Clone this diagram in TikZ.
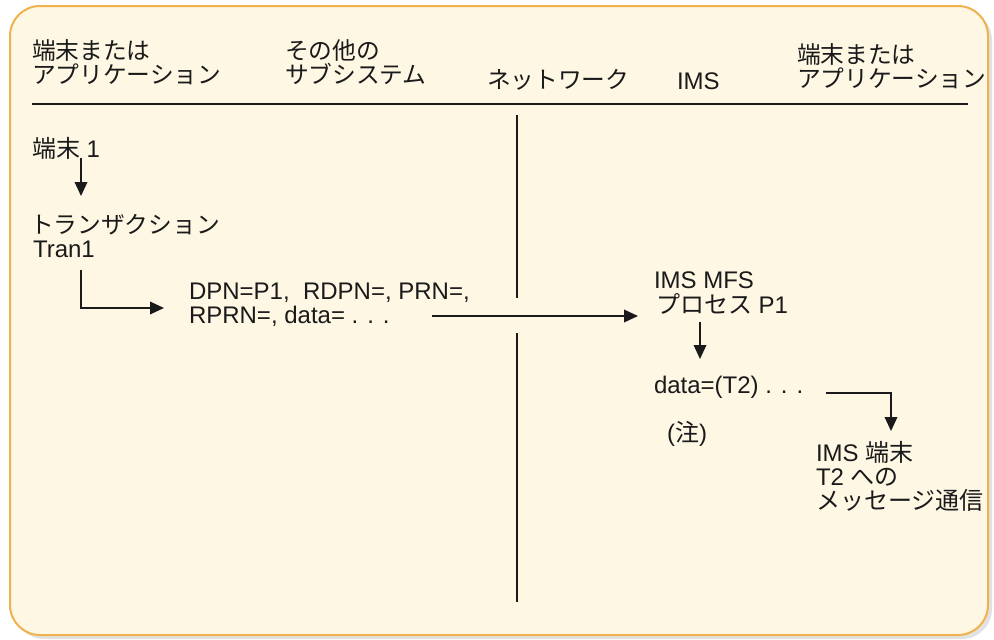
\documentclass[tikz,border=0pt]{standalone}
\usepackage{fontspec}
\setmainfont{Liberation Sans}
\newfontfamily\jpfont{Noto Sans CJK JP}
\newcommand{\J}[1]{{\jpfont #1}}
\usetikzlibrary{arrows.meta}
\definecolor{textc}{HTML}{1A1A1A}
\definecolor{panelfill}{HTML}{FDF7E4}
\definecolor{panelline}{HTML}{F0B24E}
\definecolor{shadowc}{HTML}{E2E2E2}
\tikzset{
  txt/.style={anchor=base west, inner sep=0pt, outer sep=0pt, text=textc,
    font=\fontsize{18}{20}\selectfont},
  jtxt/.style={txt, font=\fontsize{17.8}{20}\selectfont},
  rule/.style={draw=textc, line width=1.1pt},
  arr/.style={draw=textc, line width=1pt, -{Triangle[length=10.5pt,width=9.5pt]}},
}
\begin{document}
\begin{tikzpicture}[x=0.75pt,y=-0.75pt]
\useasboundingbox (0,0) rectangle (994,639);
% panel
\fill[shadowc, rounded corners=22.5pt] (14,10) rectangle (992,639);
\draw[fill=panelfill, draw=panelline, line width=1.5pt, rounded corners=22.5pt] (10,6) rectangle (988,635);

% headers
\node[jtxt] (h1a) at (32,59) {\J{端末または}};
\node[jtxt] (h1b) at (32,83) {\J{アプリケーション}};
\node[jtxt] (h2a) at (285,59) {\J{その他の}};
\node[jtxt] (h2b) at (285,83) {\J{サブシステム}};
\node[jtxt] (h3) at (487,88) {\J{ネットワーク}};
\node[txt] (h4) at (677,89) {IMS};
\node[jtxt] (h5a) at (797,63) {\J{端末または}};
\node[jtxt] (h5b) at (797,87) {\J{アプリケーション}};

% rules
\coordinate (hl1) at (32,104);
\coordinate (hl2) at (968,104);
\draw[rule] (hl1) -- (hl2);
\coordinate (vl1) at (517,115);
\coordinate (vl2) at (517,298);
\coordinate (vl3) at (517,333);
\coordinate (vl4) at (517,602);
\draw[rule] (vl1) -- (vl2);
\draw[rule] (vl3) -- (vl4);

% left flow
\node[txt] (t1) at (32,157) {\J{端末} 1};
\node[jtxt] (tr1) at (30,233) {\J{トランザクション}};
\node[txt] (tr2) at (33,257) {Tran1};
\node[txt] (dp1) at (189,299) {DPN=P1,\ \ RDPN=, PRN=,};
\node[txt] (dp2) at (189,323) {RPRN=, data= . . .};

\coordinate (a1s) at (81,158);
\coordinate (a1e) at (81,196);
\draw[arr] (a1s) -- (a1e);
\coordinate (a2s) at (81,270);
\coordinate (a2e) at (164,308);
\draw[arr] (a2s) |- (a2e);
\coordinate (a3s) at (432,316);
\coordinate (a3e) at (638,316);
\draw[arr] (a3s) -- (a3e);

% IMS side
\node[txt] (m1) at (654,288) {IMS MFS};
\node[txt] (m2) at (656,313) {\J{プロセス} P1};
\coordinate (a4s) at (700,322);
\coordinate (a4e) at (700,359);
\draw[arr] (a4s) -- (a4e);
\node[txt] (d1) at (654,393) {data=(T2) . . .};
\node[txt] (n1) at (667,441) {(\J{注})};
\coordinate (a5s) at (826,393);
\coordinate (a5e) at (891,431);
\draw[arr] (a5s) -| (a5e);
\node[txt] (r1) at (816,461) {IMS \J{端末}};
\node[txt] (r2) at (816,485) {T2 \J{への}};
\node[txt] (r3) at (816,509) {\J{メッセージ通信}};
\end{tikzpicture}
\end{document}
